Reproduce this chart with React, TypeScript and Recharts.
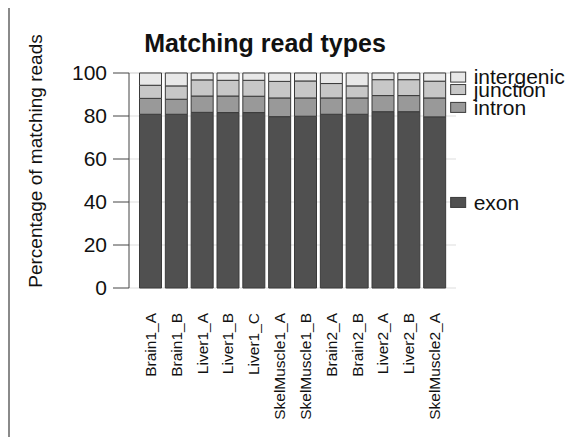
import React from "react";
import {
  BarChart,
  Bar,
  XAxis,
  YAxis,
  CartesianGrid,
  LabelList,
} from "recharts";

const categories = [
  "Brain1_A",
  "Brain1_B",
  "Liver1_A",
  "Liver1_B",
  "Liver1_C",
  "SkelMuscle1_A",
  "SkelMuscle1_B",
  "Brain2_A",
  "Brain2_B",
  "Liver2_A",
  "Liver2_B",
  "SkelMuscle2_A",
];
const exon = [80.8, 80.8, 81.7, 81.6, 81.6, 79.7, 79.9, 80.8, 80.8, 82.0, 82.0, 79.6];
const intron = [7.4, 7.0, 7.6, 7.7, 7.6, 8.7, 8.5, 7.6, 7.6, 7.5, 7.5, 8.8];
const junction = [6.1, 6.2, 7.5, 7.3, 7.4, 7.7, 7.9, 6.7, 5.6, 7.4, 7.4, 7.8];
const intergenic = [5.7, 6.0, 3.2, 3.4, 3.4, 3.9, 3.7, 4.9, 6.0, 3.1, 3.1, 3.8];
const yTicks = [0, 20, 40, 60, 80, 100];

const FONT = "'Liberation Sans', Arial, Helvetica, sans-serif";

const data = categories.map((name, i) => ({
  name,
  exon: exon[i],
  intron: intron[i],
  junction: junction[i],
  intergenic: intergenic[i],
}));

const series = [
  { key: "exon", fill: "#505050" },
  { key: "intron", fill: "#999999" },
  { key: "junction", fill: "#c7c7c7" },
  { key: "intergenic", fill: "#e8e8e8" },
];

// legend entry sits beside the last bar, at the middle of its segment
const legendLabel = (name: string, fill: string) => (props: any) => {
  const { x, y, width, height, index } = props;
  if (index !== categories.length - 1) return null;
  const right = Number(x) + Number(width);
  const mid = Number(y) + Number(height) / 2;
  return (
    <g>
      <rect x={right + 5} y={mid - 5} width={15} height={10} fill={fill} stroke="#3a3a3a" />
      <text
        x={right + 28}
        y={mid}
        dy="0.35em"
        fontSize={21}
        fontFamily={FONT}
        fill="#111"
      >
        {name}
      </text>
    </g>
  );
};

const XTick = (props: any) => {
  const { x, y, payload } = props;
  return (
    <text
      transform={`translate(${x},${y}) rotate(-90)`}
      textAnchor="end"
      dy="0.35em"
      fontSize={15.5}
      fontFamily={FONT}
      fill="#111"
    >
      {payload.value}
    </text>
  );
};

export default function App() {
  return (
    <div
      style={{
        width: 568,
        height: 430,
        marginTop: -3,
        borderTop: "2px solid #8a8a8a",
        borderLeft: "2px solid #8a8a8a",
      }}
    >
      <BarChart
        width={568}
        height={430}
        data={data}
        margin={{ top: 66, right: 122, left: 19, bottom: 119 }}
        barSize={22}
      >
        <CartesianGrid vertical={false} stroke="#dddddd" />
        <XAxis
          dataKey="name"
          interval={0}
          axisLine={false}
          tickLine={false}
          tickSize={0}
          tickMargin={25}
          height={30}
          padding={{ left: 8.5, right: 8.5 }}
          tick={<XTick />}
        />
        <YAxis
          width={100}
          domain={[0, 100]}
          ticks={yTicks}
          tickSize={16}
          tickMargin={6}
          stroke="#444"
          tick={{ fill: "#111", fontSize: 21, fontFamily: FONT }}
        />
        {series.map((s) => (
          <Bar
            key={s.key}
            dataKey={s.key}
            stackId="a"
            fill={s.fill}
            stroke="#3a3a3a"
            strokeWidth={1}
            isAnimationActive={false}
          >
            <LabelList dataKey={s.key} content={legendLabel(s.key, s.fill)} />
          </Bar>
        ))}
        <text
          x={255}
          y={45}
          textAnchor="middle"
          fontSize={25}
          fontWeight="bold"
          fontFamily={FONT}
          fill="#111"
        >
          Matching read types
        </text>
        <text
          transform="translate(25,154) rotate(-90)"
          textAnchor="middle"
          dy="0.35em"
          fontSize={19}
          fontFamily={FONT}
          fill="#111"
        >
          Percentage of matching reads
        </text>
      </BarChart>
    </div>
  );
}
